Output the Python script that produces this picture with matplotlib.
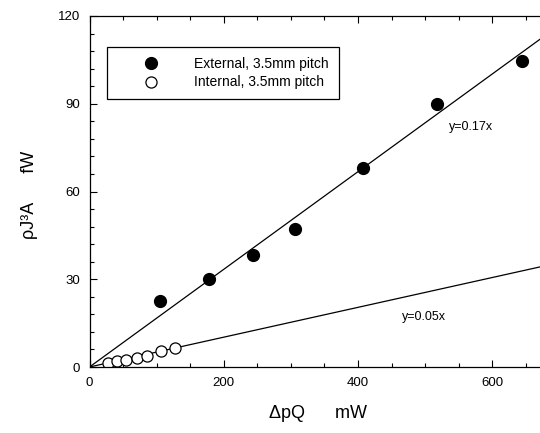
import matplotlib
matplotlib.use("Agg")
import matplotlib.pyplot as plt
import numpy as np
from matplotlib.ticker import MultipleLocator

plt.rcParams['font.family'] = ['Liberation Sans Narrow', 'Liberation Sans', 'DejaVu Sans']

ext_x = [105, 178, 243, 306, 407, 517, 644]
ext_y = [22.5, 30.1, 38.4, 47.1, 67.9, 90.0, 104.7]
int_x = [28, 41, 54, 70, 86, 106, 128]
int_y = [1.5, 2.0, 2.4, 3.2, 3.9, 5.6, 6.4]
slope_ext = 0.167
slope_int = 0.051
fit_x = [0, 700]

fig = plt.figure(figsize=(5.4, 4.33), dpi=100)
ax = fig.add_axes([89.5/540, 66/433, 470/540, 351/433])

ax.plot(fit_x, [slope_ext*v for v in fit_x], color='black', lw=0.9)
ax.plot(fit_x, [slope_int*v for v in fit_x], color='black', lw=0.9)
ax.plot(ext_x, ext_y, 'o', color='black', ms=8.5, ls='none',
        label='External, 3.5mm pitch')
ax.plot(int_x, int_y, 'o', mfc='white', mec='black', mew=0.9, ms=8, ls='none',
        label='Internal, 3.5mm pitch')

ax.set_xlim(0, 700)
ax.set_ylim(0, 120)
ax.set_xticks([0, 200, 400, 600])
ax.set_yticks([0, 30, 60, 90, 120])
ax.xaxis.set_minor_locator(MultipleLocator(50))
ax.yaxis.set_minor_locator(MultipleLocator(6))
ax.tick_params(which='both', direction='in', top=True, right=True, labelsize=9.5, width=0.8)
ax.tick_params(which='major', length=5, pad=7)
ax.tick_params(which='minor', length=3)
for s in ax.spines.values():
    s.set_linewidth(0.9)

leg = ax.legend(loc='upper left', bbox_to_anchor=(0.037, 0.912), fontsize=10,
                frameon=True, fancybox=False, edgecolor='black', framealpha=1,
                borderpad=0.7, handlelength=5.0, handletextpad=0.6,
                labelspacing=0.35, borderaxespad=0)
leg.get_frame().set_linewidth(0.9)

ax.text(536, 82, 'y=0.17x', fontsize=9, ha='left', va='center')
ax.text(465, 17, 'y=0.05x', fontsize=9, ha='left', va='center')

fig.text(318/540, 1 - 414/433, 'ΔpQ      mW', fontsize=13, ha='center', va='center')
fig.text(30/540, 1 - 195/433, 'ρJ³A      fW', fontsize=13, ha='center', va='center',
         rotation=90)

fig.savefig('out.png', dpi=100)
